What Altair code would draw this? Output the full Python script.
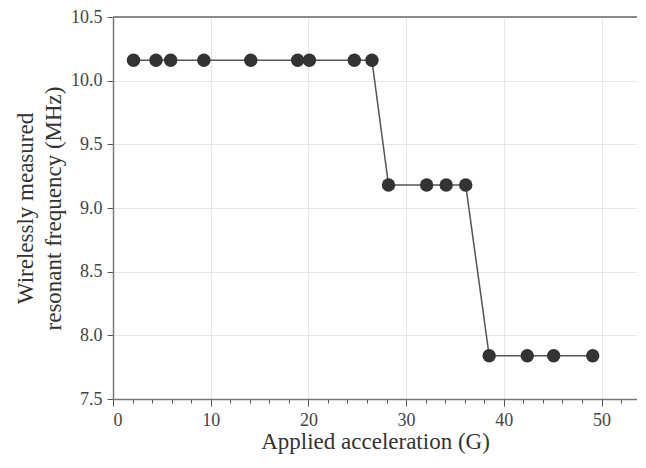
import altair as alt
import pandas as pd

accel = [2.1, 4.4, 5.9, 9.3, 14.1, 18.9, 20.1, 24.7, 26.5,
         28.2, 32.1, 34.1, 36.1,
         38.5, 42.4, 45.1, 49.1]
freq = [10.16] * 9 + [9.18] * 4 + [7.84] * 4
x_major = [0, 10, 20, 30, 40, 50]
x_minor = list(range(0, 54, 2))
y_ticks = [7.5, 8.0, 8.5, 9.0, 9.5, 10.0, 10.5]

df = pd.DataFrame({"accel": accel, "freq": freq})

W, H = 524, 382
FONT = "Liberation Serif"
DARK = "#333333"

xenc = alt.X(
    "accel:Q",
    scale=alt.Scale(domain=[0, 53.63], nice=False, zero=False),
    axis=alt.Axis(
        title="Applied acceleration (G)",
        values=x_minor,
        labelExpr="datum.value % 10 === 0 ? datum.label : ''",
        tickSize={"condition": {"test": "datum.value % 10 === 0", "value": 7}, "value": 4},
        gridOpacity={"condition": {"test": "datum.value % 10 === 0", "value": 1}, "value": 0},
        format="d",
    ),
)
yenc = alt.Y(
    "freq:Q",
    scale=alt.Scale(domain=[7.5, 10.5], nice=False, zero=False),
    axis=alt.Axis(
        title=["Wirelessly measured", "resonant frequency (MHz)"],
        values=y_ticks,
        format=".1f",
        tickSize=6,
    ),
)

line = alt.Chart(df).mark_line(color="#555555", strokeWidth=1.5).encode(x=xenc, y=yenc)
pts = alt.Chart(df).mark_circle(color=DARK, opacity=1, size=180).encode(x=xenc, y=yenc)
top = alt.Chart(df).mark_rule(color="#8a8a8a", strokeWidth=2).encode(
    x=alt.value(0), x2=alt.value(W), y=alt.value(0)
)

chart = (
    alt.layer(line, pts, top)
    .properties(
        width=W,
        height=H,
        autosize=alt.AutoSizeParams(type="none"),
        padding={"left": 105, "top": 9, "right": 0, "bottom": 56},
    )
    .configure_view(stroke=None)
    .configure_axis(
        labelFont=FONT,
        titleFont=FONT,
        labelFontSize=18,
        titleFontSize=23,
        titleFontWeight="normal",
        labelColor="#444444",
        titleColor="#333333",
        domainColor="#777777",
        domainWidth=1.5,
        tickColor="#555555",
        gridColor="#e6e6e6",
        gridWidth=1,
    )
    .configure_axisX(labelPadding=5, titlePadding=1)
    .configure_axisY(labelPadding=5, titlePadding=5, titleLineHeight=28)
)

chart.save("out.html", embed_options={"renderer": "svg", "actions": False})
